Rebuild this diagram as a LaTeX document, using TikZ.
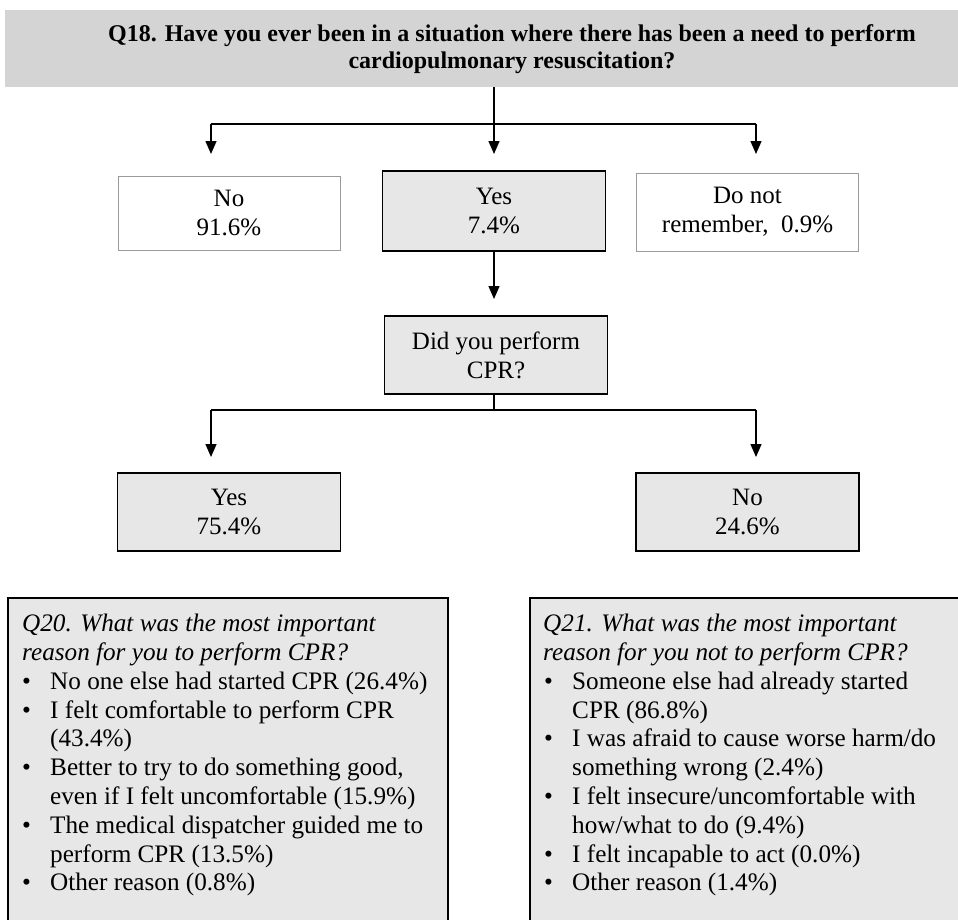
\documentclass[tikz,border=0pt]{standalone}
\usepackage{fontspec}
\setmainfont{Liberation Serif}
\usetikzlibrary{arrows.meta}
\definecolor{topgrey}{HTML}{D4D4D4}
\definecolor{boxgrey}{HTML}{E7E7E7}
\definecolor{lightedge}{HTML}{9A9A9A}
\begin{document}
\begin{tikzpicture}[x=1pt,y=-1pt,
  font=\fontsize{25}{29}\selectfont,
  conn/.style={line width=1.4pt},
  arr/.style={conn,-{Triangle[length=13pt,width=11pt]}},
  plainbox/.style={draw=lightedge,line width=1pt,fill=white,minimum width=222pt,minimum height=74pt,align=center,inner sep=0pt},
  greybox/.style={draw=black,line width=1.5pt,fill=boxgrey,minimum width=223pt,minimum height=78pt,align=center,inner sep=0pt},
  listtext/.style={anchor=north west,align=left,inner sep=0pt,font=\fontsize{25.2}{28.8}\selectfont},
  ]
\useasboundingbox (0,0) rectangle (958,919);
% top question
\fill[topgrey] (5,10) rectangle (990,87);
\node[align=center,inner sep=0pt,font=\fontsize{24}{27}\selectfont\bfseries] (q18) at (512,49)
  {Q18. Have you ever been in a situation where there has been a need to perform\\
   cardiopulmonary resuscitation?};
\coordinate (q18b) at (494,87);
% first level
\node[plainbox] (no1) at (229,213) {No\\91.6\%};
\node[greybox,minimum height=80pt] (yes1) at (494,211) {Yes\\7.4\%};
\node[plainbox,minimum height=78pt] (dnr) at (747.5,212) {Do not\\remember,\ \ 0.9\%};
\coordinate (t1) at (494,124);
\coordinate (t1l) at (211,124);
\coordinate (t1r) at (756,124);
\coordinate (e1l) at (211,154);
\coordinate (e1m) at (494,154);
\coordinate (e1r) at (756,154);
\draw[conn] (q18b) -- (t1);
\draw[conn] (t1l) -- (t1r);
\draw[arr] (t1l) -- (e1l);
\draw[arr] (t1) -- (e1m);
\draw[arr] (t1r) -- (e1r);
% second level
\node[greybox] (did) at (496,355) {Did you perform\\CPR?};
\coordinate (e2) at (494,299);
\draw[arr] (yes1.south) -- (e2);
\coordinate (t2) at (494,410);
\coordinate (t2l) at (211,410);
\coordinate (t2r) at (756,410);
\coordinate (e3l) at (211,457);
\coordinate (e3r) at (756,457);
\draw[conn] (did.south -| t2) -- (t2);
\draw[conn] (t2l) -- (t2r);
\draw[arr] (t2l) -- (e3l);
\draw[arr] (t2r) -- (e3r);
\node[greybox] (yes2) at (229,512) {Yes\\75.4\%};
\node[greybox] (no2) at (747.5,512) {No\\24.6\%};
% bottom boxes
\draw[line width=1.5pt,fill=boxgrey] (8,935) -- (8,598) -- (448,598) -- (448,935);
\draw[line width=1.5pt,fill=boxgrey] (530,935) -- (530,598) -- (990,598) -- (990,935);
\node[listtext] (q20) at (22,614) {%
\textit{Q20. What was the most important}\\
\textit{reason for you to perform CPR?}\\
\makebox[28pt][l]{•}No one else had started CPR (26.4\%)\\
\makebox[28pt][l]{•}I felt comfortable to perform CPR\\
\hspace*{28pt}(43.4\%)\\
\makebox[28pt][l]{•}Better to try to do something good,\\
\hspace*{28pt}even if I felt uncomfortable (15.9\%)\\
\makebox[28pt][l]{•}The medical dispatcher guided me to\\
\hspace*{28pt}perform CPR (13.5\%)\\
\makebox[28pt][l]{•}Other reason (0.8\%)};
\node[listtext] (q21) at (543,614) {%
\textit{Q21. What was the most important}\\
\textit{reason for you not to perform CPR?}\\
\makebox[29pt][l]{\hspace{1pt}•}Someone else had already started\\
\hspace*{29pt}CPR (86.8\%)\\
\makebox[29pt][l]{\hspace{1pt}•}I was afraid to cause worse harm/do\\
\hspace*{29pt}something wrong (2.4\%)\\
\makebox[29pt][l]{\hspace{1pt}•}I felt insecure/uncomfortable with\\
\hspace*{29pt}how/what to do (9.4\%)\\
\makebox[29pt][l]{\hspace{1pt}•}I felt incapable to act (0.0\%)\\
\makebox[29pt][l]{\hspace{1pt}•}Other reason (1.4\%)};
\end{tikzpicture}
\end{document}
